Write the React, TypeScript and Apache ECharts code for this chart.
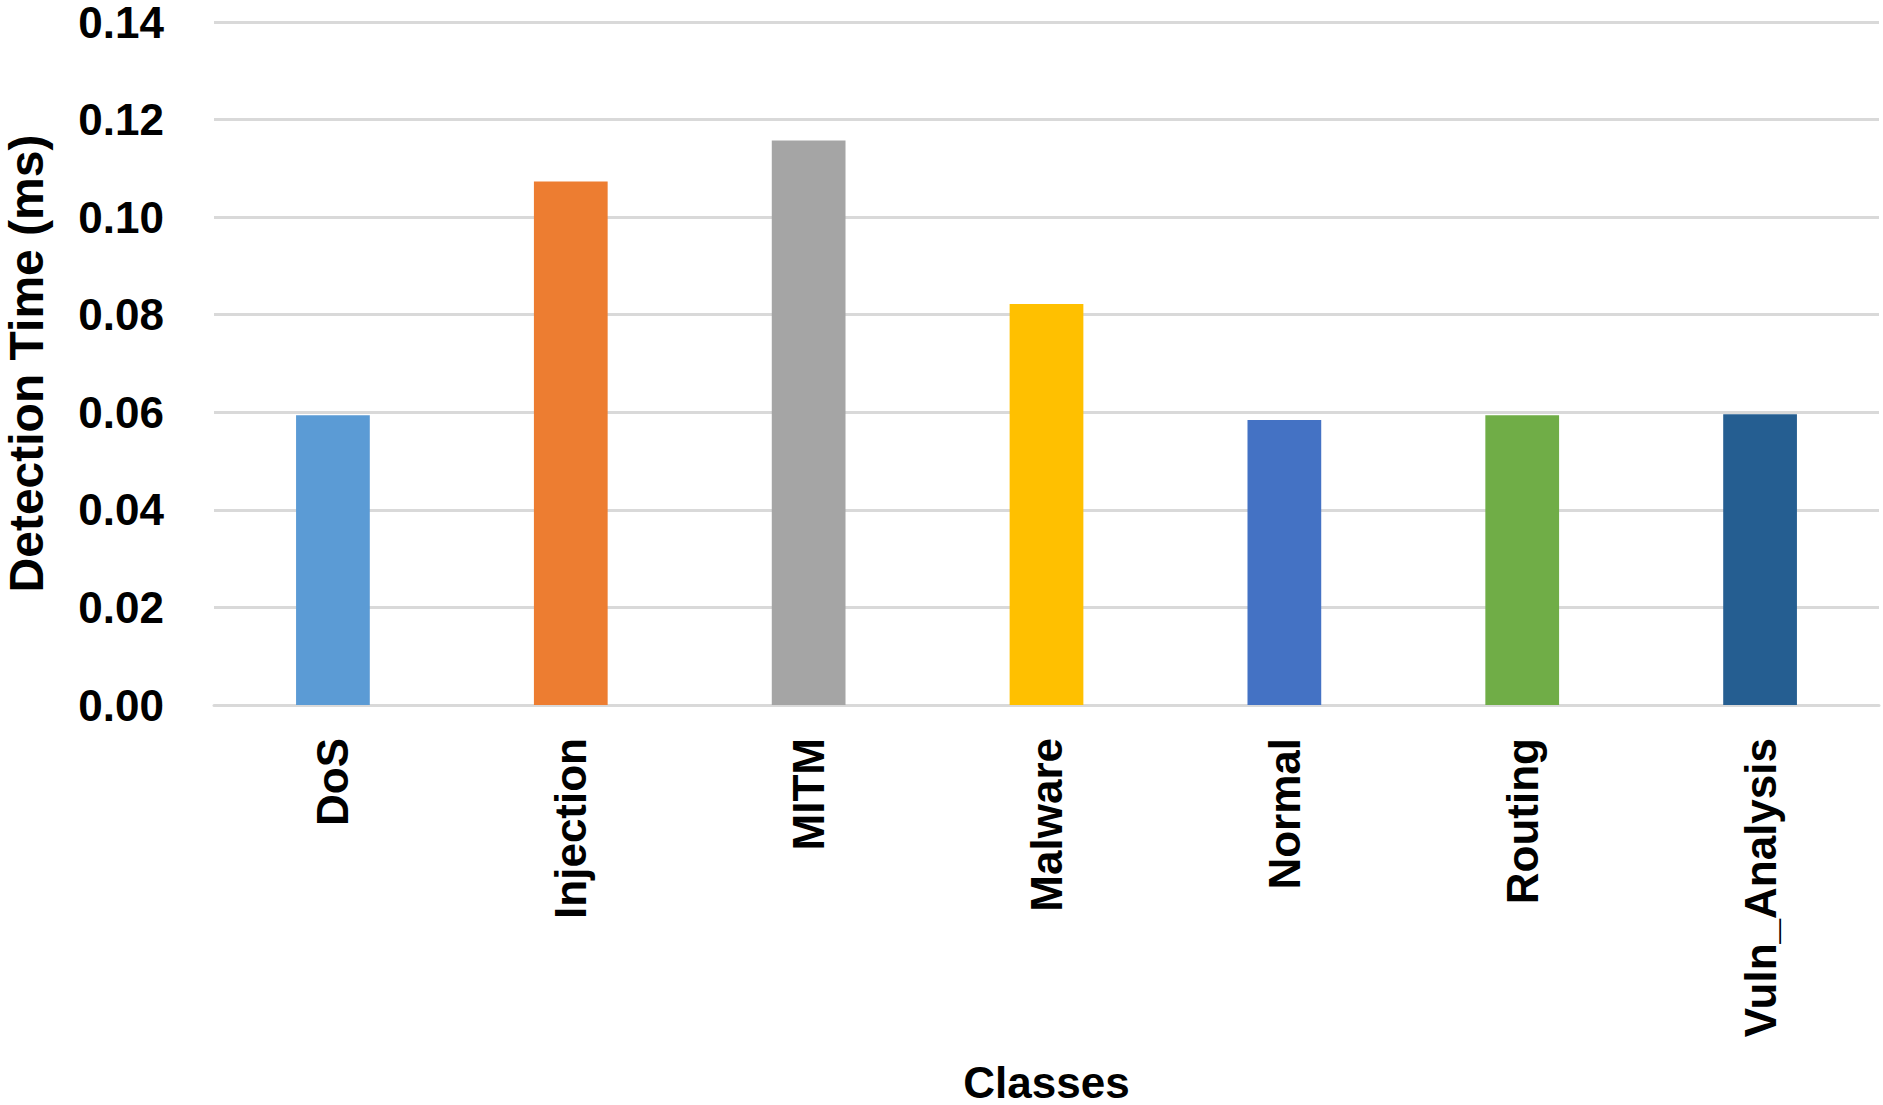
import React, { useEffect, useRef } from "react";
import * as echarts from "echarts";

const categories = ["DoS", "Injection", "MITM", "Malware", "Normal", "Routing", "Vuln_Analysis"];
const detectionTimes = [0.0594, 0.1073, 0.1157, 0.0822, 0.0584, 0.0594, 0.0596];
const barColors = ["#5B9BD5", "#ED7D31", "#A5A5A5", "#FFC000", "#4472C4", "#70AD47", "#255E91"];
const yTicks = { min: 0, max: 0.14, interval: 0.02 };

const FONT = "Liberation Sans";

export default function App() {
  const ref = useRef<HTMLDivElement>(null);
  useEffect(() => {
    document.body.style.margin = "0";
    if (!ref.current) return;
    const chart = echarts.init(ref.current, undefined, { renderer: "svg" });
    chart.setOption({
      animation: false,
      backgroundColor: "#FFFFFF",
      grid: {
        left: 214,
        right: 4,
        top: 22,
        bottom: 400,
        containLabel: false,
        outerBoundsMode: "none",
      },
      xAxis: {
        type: "category",
        data: categories,
        name: "Classes",
        nameLocation: "middle",
        nameGap: 355,
        nameTextStyle: { fontFamily: FONT, fontWeight: "bold", fontSize: 44, color: "#000" },
        axisTick: { show: false },
        axisLine: { show: true, lineStyle: { color: "#D9D9D9", width: 3 } },
        axisLabel: {
          rotate: 90,
          margin: 33,
          interval: 0,
          fontFamily: FONT,
          fontWeight: "bold",
          fontSize: 44,
          color: "#000",
        },
      },
      yAxis: {
        type: "value",
        min: yTicks.min,
        max: yTicks.max,
        interval: yTicks.interval,
        name: "Detection Time (ms)",
        nameLocation: "middle",
        nameRotate: 90,
        nameGap: 164,
        nameTextStyle: { fontFamily: FONT, fontWeight: "bold", fontSize: 48, color: "#000" },
        axisLine: { show: false },
        axisTick: { show: false },
        splitLine: { show: true, lineStyle: { color: "#D9D9D9", width: 3 } },
        axisLabel: {
          margin: 50,
          fontFamily: FONT,
          fontWeight: "bold",
          fontSize: 44,
          color: "#000",
          formatter: (v: number) => v.toFixed(2),
        },
      },
      series: [
        {
          type: "bar",
          barWidth: "31%",
          data: detectionTimes.map((v, i) => ({
            value: v,
            itemStyle: { color: barColors[i] },
          })),
        },
      ],
    });
    return () => chart.dispose();
  }, []);
  return <div ref={ref} style={{ width: 1883, height: 1105 }} />;
}
